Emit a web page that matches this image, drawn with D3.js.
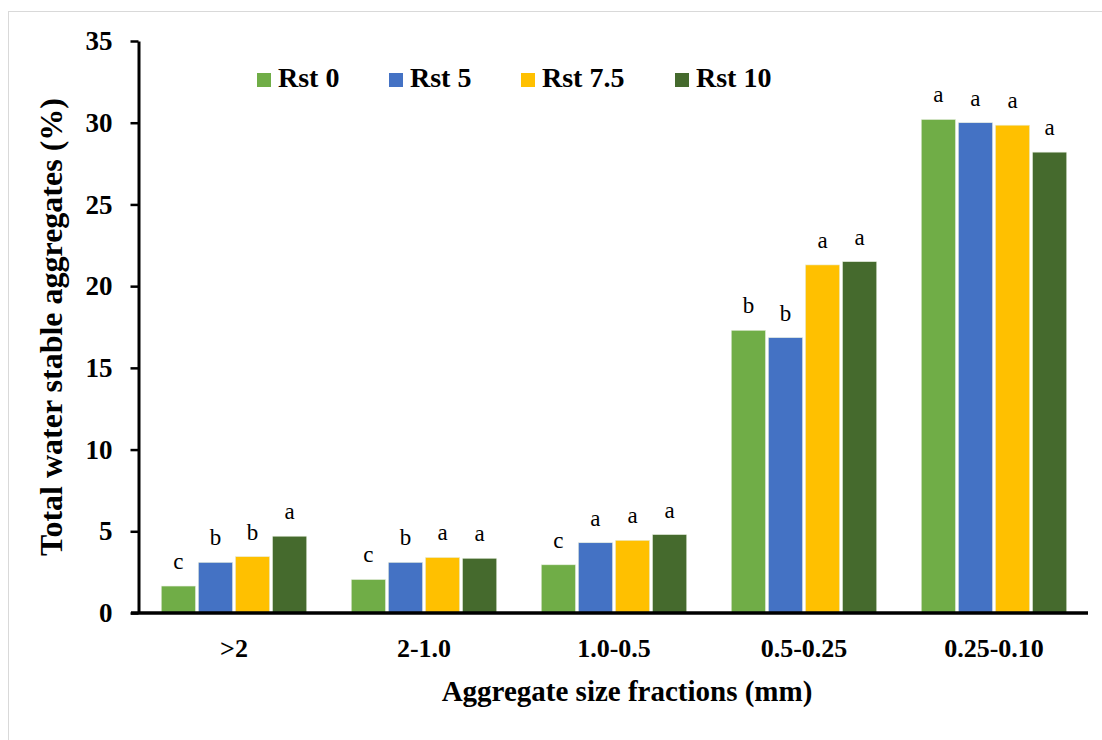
<!DOCTYPE html>
<html>
<head>
<meta charset="utf-8">
<script src="https://cdn.jsdelivr.net/npm/d3@7"></script>
<style>
  html, body { margin: 0; padding: 0; background: #fff; }
  svg { display: block; }
  svg text { font-family: "Liberation Serif", "Tinos", "Times New Roman", Times, "DejaVu Serif", "Noto Serif", serif !important; }
</style>
</head>
<body>
<svg id="chart" width="1102" height="740"></svg>
<script>
const categories = [">2", "2-1.0", "1.0-0.5", "0.5-0.25", "0.25-0.10"];
const seriesNames = ["Rst 0", "Rst 5", "Rst 7.5", "Rst 10"];
const rst0  = [1.65, 2.05, 2.95, 17.3, 30.2];
const rst5  = [3.1, 3.1, 4.3, 16.85, 30.0];
const rst75 = [3.45, 3.4, 4.45, 21.3, 29.85];
const rst10 = [4.7, 3.35, 4.8, 21.5, 28.2];
const letters0  = ["c", "c", "c", "b", "a"];
const letters5  = ["b", "b", "a", "b", "a"];
const letters75 = ["b", "a", "a", "a", "a"];
const letters10 = ["a", "a", "a", "a", "a"];
const yTicks = [0, 5, 10, 15, 20, 25, 30, 35];
const colors = ["#70AD47", "#4472C4", "#FFC000", "#456A2D"];

const values = [rst0, rst5, rst75, rst10];
const letters = [letters0, letters5, letters75, letters10];

const svg = d3.select("#chart");

// outer frame
svg.append("rect").attr("x", 8.5).attr("y", 11.5).attr("width", 1110).attr("height", 750)
  .attr("fill", "none").attr("stroke", "#d9d9d9").attr("stroke-width", 1);

const y = d3.scaleLinear().domain([0, 35]).range([613, 41]);
const x0 = d3.scaleBand().domain(categories).range([139, 1089]).padding(0);
const x1 = d3.scaleBand().domain(seriesNames).range([0, x0.bandwidth()])
  .paddingInner(0.075).paddingOuter(0.6);

const rows = [];
categories.forEach((c, i) => {
  seriesNames.forEach((s, j) => {
    rows.push({cat: c, series: s, value: values[j][i], letter: letters[j][i], color: colors[j]});
  });
});

// bars
svg.append("g").selectAll("rect").data(rows).join("rect")
  .attr("x", d => x0(d.cat) + x1(d.series))
  .attr("y", d => y(d.value))
  .attr("width", x1.bandwidth())
  .attr("height", d => y(0) - y(d.value))
  .attr("fill", d => d.color)
  .attr("stroke", "#e8efe0").attr("stroke-width", 0.6);

// significance letters
svg.append("g").selectAll("text").data(rows).join("text")
  .attr("x", d => x0(d.cat) + x1(d.series) + x1.bandwidth() / 2)
  .attr("y", d => y(d.value) - 17)
  .attr("text-anchor", "middle")
  .attr("font-size", 23)
  .attr("fill", "#000")
  .text(d => d.letter);

// y axis
const yAxis = d3.axisLeft(y).tickValues(yTicks).tickSize(8).tickSizeOuter(0).tickPadding(18);
const gy = svg.append("g").attr("transform", "translate(138.5,0)").call(yAxis);
gy.select(".domain").attr("stroke", "#000").attr("stroke-width", 3);
gy.selectAll(".tick line").attr("stroke", "#000").attr("stroke-width", 2.5);
gy.selectAll(".tick text").attr("font-size", 27).attr("font-weight", "bold").attr("fill", "#000");

// x axis
const xAxis = d3.axisBottom(x0).tickSize(0).tickPadding(0);
const gx = svg.append("g").attr("transform", `translate(0,${y(0)})`).call(xAxis);
gx.select(".domain").remove();
gx.selectAll(".tick text").attr("font-size", 26).attr("font-weight", "bold").attr("fill", "#000")
  .attr("dy", null).attr("y", 44);
svg.append("line").attr("x1", 131).attr("x2", 1088).attr("y1", y(0)).attr("y2", y(0))
  .attr("stroke", "#000").attr("stroke-width", 3.5);

// axis titles
svg.append("text").attr("x", 627).attr("y", 701).attr("text-anchor", "middle")
  .attr("font-size", 29).attr("font-weight", "bold").text("Aggregate size fractions (mm)");
svg.append("text").attr("transform", "translate(62,327) rotate(-90)").attr("text-anchor", "middle")
  .attr("font-size", 32).attr("font-weight", "bold").text("Total water stable aggregates (%)");

// legend
const legendX = [257, 389, 521, 675];
const lg = svg.append("g").selectAll("g").data(seriesNames).join("g")
  .attr("transform", (d, i) => `translate(${legendX[i]},0)`);
lg.append("rect").attr("x", 0).attr("y", 73).attr("width", 14).attr("height", 14)
  .attr("fill", (d, i) => colors[i]);
lg.append("text").attr("x", 21).attr("y", 87).attr("font-size", 28).attr("font-weight", "bold")
  .text(d => d);
</script>
</body>
</html>
